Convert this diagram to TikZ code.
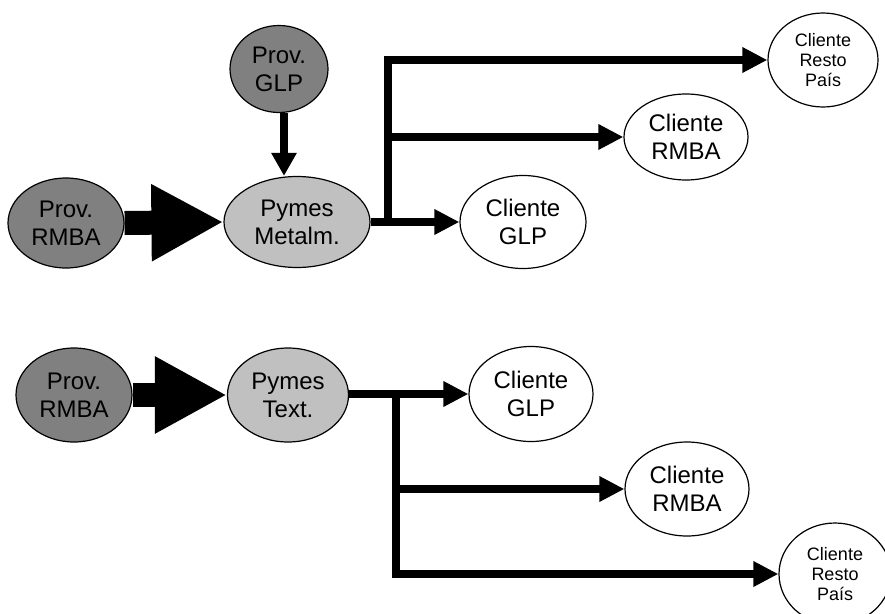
\documentclass[tikz,border=0pt]{standalone}
\usepackage{fontspec}
\setmainfont{Liberation Sans}
\usetikzlibrary{shapes.geometric,arrows.meta}
\definecolor{gray50}{RGB}{128,128,128}
\definecolor{gray75}{RGB}{192,192,192}
\tikzset{
  ell/.style={ellipse, draw=black, line width=1.2pt, inner sep=0pt, align=center,
              font=\fontsize{24}{28}\selectfont},
  small/.style={font=\fontsize{18}{20}\selectfont},
  prov/.style={ell, fill=gray50},
  pyme/.style={ell, fill=gray75},
  cli/.style={ell, fill=white},
  conn/.style={line width=8.5pt, line join=miter, -{Triangle[length=25pt,width=24pt]}},
  bigarr/.style={line width=24pt, -{Triangle[length=72pt,width=72pt]}},
}
\begin{document}
\begin{tikzpicture}[x=1pt,y=-1pt]
\useasboundingbox (0,0) rectangle (885,613);

% ---- top group ----
\node[prov, minimum width=98pt, minimum height=87pt] (provGLP) at (279,69) {Prov.\\GLP};
\node[prov, minimum width=116pt, minimum height=90pt] (provA) at (66,223) {Prov.\\RMBA};
\node[pyme, minimum width=146pt, minimum height=91pt] (pymesA) at (297,222) {Pymes\\Metalm.};
\node[cli, minimum width=126pt, minimum height=93pt] (cglpA) at (523,222) {Cliente\\GLP};
\node[cli, minimum width=124pt, minimum height=86pt] (crmbaA) at (686,137) {Cliente\\RMBA};
\node[cli, small, minimum width=110pt, minimum height=94pt] (crestA) at (823,60) {Cliente\\Resto\\País};

\coordinate (g) at (284,0);
\draw[conn, -{Triangle[length=23pt,width=24pt]}] (g |- provGLP.south) -- (g |- pymesA.north);
\draw[bigarr] (provA.east) -- (pymesA.west);

\coordinate (jA) at (388,222);
\draw[conn] (pymesA.east) -- (cglpA.west);
\draw[conn] (jA) |- (crestA.west);
\draw[conn] (jA |- crmbaA.west) -- (crmbaA.west);

% ---- bottom group ----
\node[prov, minimum width=116pt, minimum height=94pt] (provB) at (74,395) {Prov.\\RMBA};
\node[pyme, minimum width=121pt, minimum height=94pt] (pymesB) at (288,395) {Pymes\\Text.};
\node[cli, minimum width=124pt, minimum height=95pt] (cglpB) at (531,394) {Cliente\\GLP};
\node[cli, minimum width=124pt, minimum height=94pt] (crmbaB) at (687,489) {Cliente\\RMBA};
\node[cli, small, minimum width=112pt, minimum height=102pt] (crestB) at (835,574) {Cliente\\Resto\\País};

\draw[bigarr] (provB.east) -- (pymesB.west);

\coordinate (jB) at (396,394);
\draw[conn] (pymesB.east |- cglpB.west) -- (cglpB.west);
\draw[conn] (jB) |- (crestB.west);
\draw[conn] (jB |- crmbaB.west) -- (crmbaB.west);
\end{tikzpicture}
\end{document}
